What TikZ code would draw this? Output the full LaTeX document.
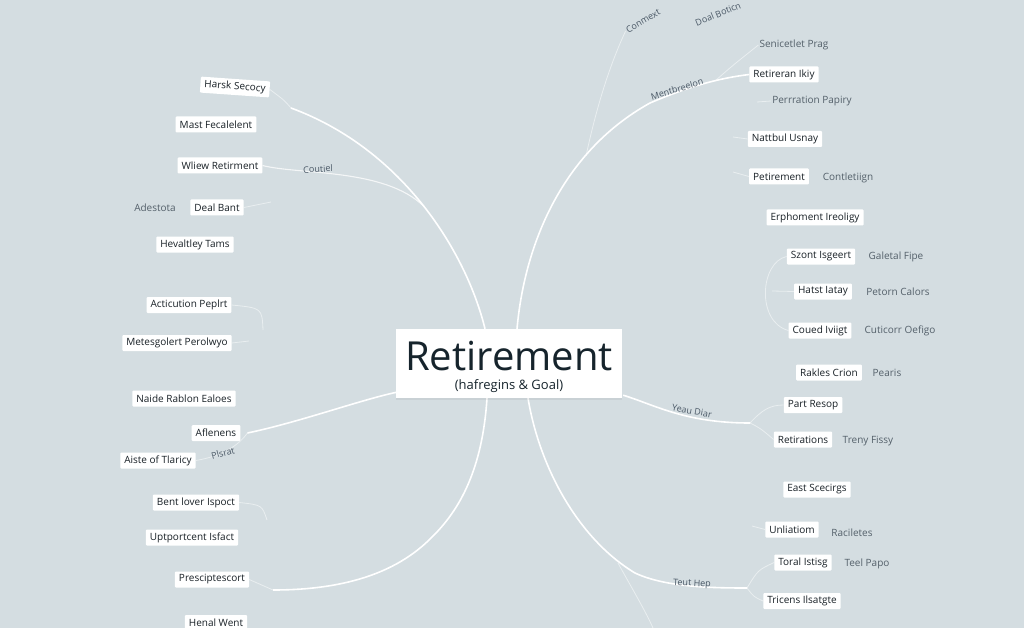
\documentclass[tikz,border=0pt]{standalone}
\usepackage{fontspec}
\setmainfont{Open Sans}
\usetikzlibrary{shadows}
\definecolor{bgc}{RGB}{212,221,225}
\definecolor{ink}{RGB}{24,32,38}
\definecolor{titleink}{RGB}{22,36,44}
\definecolor{lbl}{RGB}{84,96,106}
\definecolor{blbl}{RGB}{74,88,102}
\pgfdeclarelayer{back}
\pgfdeclarelayer{lines}
\pgfsetlayers{back,lines,main}
\begin{document}
\begin{tikzpicture}[x=1pt,y=-1pt,
  box/.style={fill=white, rounded corners=1pt, inner xsep=4pt, inner ysep=2.5pt, text=ink, font=\fontsize{10}{11}\selectfont, minimum height=16pt},
  gl/.style={text=lbl, font=\fontsize{10}{11}\selectfont, inner sep=1pt},
  bl/.style={text=blbl, font=\fontsize{9}{10}\selectfont, inner sep=1pt},
  mainline/.style={draw=white, line width=1.6pt},
  faint/.style={draw=white, line width=0.8pt, opacity=0.5},
  midline/.style={draw=white, line width=1.1pt, opacity=0.75}]
\begin{pgfonlayer}{back}
\fill[bgc] (0,0) rectangle (1024,628);
\end{pgfonlayer}
\useasboundingbox (0,0) rectangle (1024,628);

% centre
\node[fill=white, minimum width=226pt, minimum height=69pt, inner sep=0pt,
  drop shadow={opacity=0.12, shadow xshift=0pt, shadow yshift=-2pt}] (c) at (509,363.5) {};
\node[anchor=base, text=titleink, inner sep=0pt, font=\fontsize{40}{42}\selectfont] (ct) at (509,370) {Retirement};
\node[anchor=base, text=titleink, inner sep=0pt, font=\fontsize{13}{14}\selectfont] (cs2) at (509,389) {(hafregins \& Goal)};

% left nodes
\node[box, rotate=-4] (hs) at (235,87) {Harsk Secocy};
\node[box] (mf) at (216,124.5) {Mast Fecalelent};
\node[box] (wr) at (220,165.5) {Wliew Retirment};
\node[gl] (ad) at (155,208) {Adestota};
\node[box] (db) at (217,207.5) {Deal Bant};
\node[box] (ht) at (195,244.5) {Hevaltley Tams};
\node[box] (ap) at (189,305) {Acticution Peplrt};
\node[box] (mp) at (177,343) {Metesgolert Perolwyo};
\node[box] (nr) at (184,398.5) {Naide Rablon Ealoes};
\node[box] (af) at (216,433) {Aflenens};
\node[box] (at) at (158,460.5) {Aiste of Tlaricy};
\node[bl, rotate=15] (pl) at (223,453) {Plsrat};
\node[box] (bi) at (196,502.5) {Bent lover Ispoct};
\node[box] (ui) at (192,537.5) {Uptportcent Isfact};
\node[box] (pr) at (212,579.5) {Presciptescort};
\node[box] (hw) at (216,623) {Henal Went};
\node[bl, rotate=3] (cl) at (318,169) {Coutiel};

% right nodes
\node[bl, rotate=30] (cm) at (643,21) {Conmext};
\node[bl, rotate=22] (dbo) at (718,14) {Doal Boticn};
\node[gl] (sp) at (794,45) {Senicetlet Prag};
\node[box] (ri) at (784,74.5) {Retireran Ikiy};
\node[bl, rotate=17] (mb) at (677,89) {Mentbreelon};
\node[gl] (pp) at (812,101) {Perrration Papiry};
\node[box] (nu) at (785,139) {Nattbul Usnay};
\node[box] (pt) at (779,176.5) {Petirement};
\node[gl] (cs) at (848,177.5) {Contletiign};
\node[box] (ei) at (815,217.5) {Erphoment Ireoligy};
\node[box] (si) at (821,256.5) {Szont Isgeert};
\node[gl] (gf) at (896,257) {Galetal Fipe};
\node[box] (hi) at (823,291.5) {Hatst Iatay};
\node[gl] (pc) at (898,292) {Petorn Calors};
\node[box] (ci) at (820,330.5) {Coued Iviigt};
\node[gl] (co) at (900,331) {Cuticorr Oefigo};
\node[box] (rc) at (829,372.5) {Rakles Crion};
\node[gl] (pe) at (887,373) {Pearis};
\node[box] (prs) at (813,405) {Part Resop};
\node[box] (rt) at (803,439.5) {Retirations};
\node[gl] (tf) at (868,441) {Treny Fissy};
\node[box] (es) at (817,489.5) {East Scecirgs};
\node[box] (un) at (792,529.5) {Unliatiom};
\node[gl] (ra) at (852,533) {Raciletes};
\node[box] (ti) at (803,562.5) {Toral Istisg};
\node[gl] (tp) at (867,563.5) {Teel Papo};
\node[box] (tr) at (802,601) {Tricens Ilsatgte};
\node[bl, rotate=-10] (yd) at (692,411) {Yeau Diar};
\node[bl, rotate=-3] (th) at (692,584) {Teut Hep};

% coordinates
\coordinate (aEnd) at (291,108);
\coordinate (aMid) at (424,206.5);
\coordinate (bMid) at (650,103);
\coordinate (bC) at (586,156);
\coordinate (bS) at (715,81);
\coordinate (ppS) at (757,102);
\coordinate (nuS) at (733,137);
\coordinate (ptS) at (733,172);
\coordinate (hiS) at (772,291);
\coordinate (dMid) at (432,537);
\coordinate (dEnd) at (273,590);
\coordinate (eMid) at (635,573);
\coordinate (eB) at (618,563);
\coordinate (eBot) at (653,628);
\coordinate (eEnd) at (747,588);
\coordinate (fEnd) at (750,423);
\coordinate (unS) at (752,526);
\coordinate (dbS) at (271,202);
\coordinate (apS) at (263,330);
\coordinate (mpS) at (249,341);
\coordinate (biS) at (267,520);

\begin{pgfonlayer}{lines}
% main branches
\draw[mainline] ([xshift=-24pt]c.north) .. controls (467,255) and (405,150) .. (aEnd);
\draw[mainline] ([xshift=8pt]c.north) .. controls (525,240) and (565,150) .. (bMid) .. controls (690,86) and (720,78) .. (ri.west);
\draw[mainline] ([shift={(1,-6)}]c.south west) .. controls (360,400) and (300,422) .. ([xshift=7pt]af.east);
\draw[mainline] ([xshift=-22pt]c.south) .. controls (483,460) and (465,505) .. (dMid) .. controls (400,570) and (350,590) .. (dEnd);
\draw[mainline] ([xshift=19pt]c.south) .. controls (540,470) and (580,540) .. (eMid) .. controls (665,587) and (710,588) .. (eEnd);
\draw[mainline] ([shift={(1,-3)}]c.south east) .. controls (655,405) and (685,423) .. (fEnd);

% secondary
\draw[midline] (wr.east) .. controls (300,175) and (385,168) .. (aMid);
\draw[faint] (aEnd) .. controls (284,100) .. (hs.east);
\draw[faint] ([xshift=7pt]af.east) .. controls (238,446) and (222,456) .. (at.east);
\draw[faint] (dEnd) -- (pr.east);
\draw[faint] (db.east) -- (dbS);
\draw[faint] (ap.east) .. controls (262,308) .. (apS);
\draw[faint] (mp.east) -- (mpS);
\draw[faint] (bi.east) .. controls (262,505) .. (biS);
\draw[faint] (bC) .. controls (598,100) and (612,60) .. (cm.west);
\draw[faint] (bS) .. controls (732,66) .. (sp.west);
\draw[faint] (ppS) -- (pp.west);
\draw[faint] (nuS) -- (nu.west);
\draw[faint] (ptS) -- (pt.west);
\draw[faint] (si.west) .. controls (760,262) and (756,322) .. (ci.west);
\draw[faint] (hiS) -- (hi.west);
\draw[faint] (fEnd) .. controls (762,410) and (770,405) .. (prs.west);
\draw[faint] (fEnd) .. controls (760,428) .. (rt.west);
\draw[faint] (unS) -- (un.west);
\draw[faint] (eEnd) .. controls (758,570) .. (ti.west);
\draw[faint] (eEnd) .. controls (754,597) .. (tr.west);
\draw[faint] (eB) .. controls (630,585) and (645,610) .. (eBot);
\end{pgfonlayer}
\end{tikzpicture}
\end{document}
